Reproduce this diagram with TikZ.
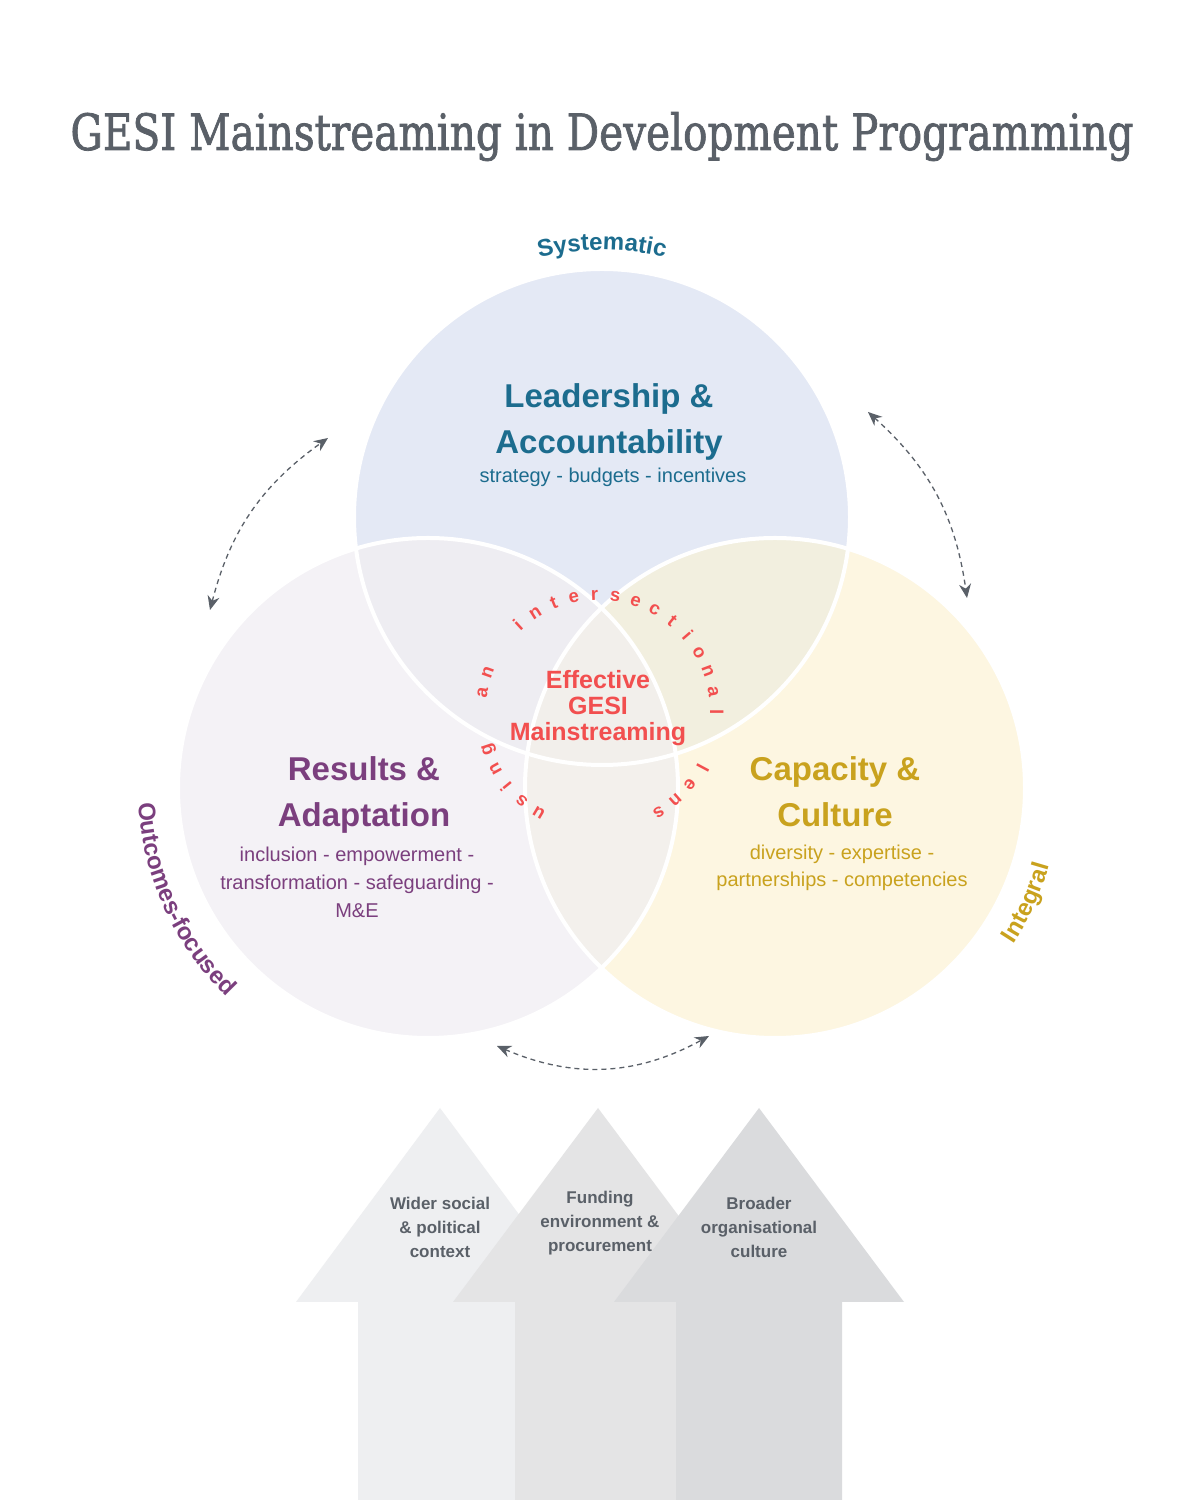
\documentclass[tikz,border=0pt]{standalone}
\usepackage{fontspec}
\usepackage{graphicx}
\setmainfont{Liberation Sans}
\newfontfamily\titlefont[FakeBold=1.6]{DejaVu Serif}
\usetikzlibrary{arrows.meta,decorations.text}
\definecolor{titlegray}{HTML}{5A6068}
\definecolor{sysblue}{HTML}{1C6C8E}
\definecolor{respurple}{HTML}{7B3F7E}
\definecolor{capgold}{HTML}{C9A21E}
\definecolor{effred}{HTML}{F24F4F}
\definecolor{topfill}{HTML}{E4E9F5}
\definecolor{leftfill}{HTML}{F4F2F6}
\definecolor{rightfill}{HTML}{FDF6E1}
\definecolor{tlfill}{HTML}{EEEDF2}
\definecolor{trfill}{HTML}{F2EFDF}
\definecolor{lrfill}{HTML}{F3F0EC}
\definecolor{cfill}{HTML}{F2EFEB}
\definecolor{arrowA}{HTML}{EEEFF1}
\definecolor{arrowB}{HTML}{E4E4E5}
\definecolor{arrowC}{HTML}{DADBDD}
\tikzset{
  headA/.style={font=\bfseries\fontsize{33}{33}\selectfont, anchor=base, inner sep=0pt},
  subA/.style={font=\fontsize{20}{20}\selectfont, anchor=base, inner sep=0pt},
  efftext/.style={font=\bfseries\fontsize{25}{25}\selectfont, text=effred, anchor=base, inner sep=0pt},
  curvch/.style={font=\bfseries\fontsize{18.5}{18.5}\selectfont, text=effred, anchor=base, inner sep=0pt},
  arrtext/.style={font=\bfseries\fontsize{17}{17}\selectfont, text=titlegray, anchor=base, inner sep=0pt},
  dasharrow/.style={draw=titlegray, line width=1.3pt, dash pattern=on 5pt off 4pt,
     {Stealth[length=14pt,width=12pt]}-{Stealth[length=14pt,width=12pt]}},
  vennline/.style={draw=white, line width=4pt}
}
\begin{document}
\begin{tikzpicture}[x=1pt,y=1pt]
\useasboundingbox (0,0) rectangle (1200,1500);
\fill[white] (0,0) rectangle (1200,1500);

% title
\node[font=\titlefont\fontsize{50}{50}\selectfont, text=titlegray, anchor=base, inner sep=0pt] (title) at (602,1350)
  {\resizebox{1063pt}{\height}{GESI Mainstreaming in Development Programming}};

% venn centres
\coordinate (T) at (602,983);
\coordinate (L) at (428,712);
\coordinate (R) at (775,712);
\coordinate (V) at (598,788);

\fill[topfill] (T) circle (248);
\fill[leftfill] (L) circle (250);
\fill[rightfill] (R) circle (250);
\begin{scope}\clip (T) circle (248); \fill[tlfill] (L) circle (250);\end{scope}
\begin{scope}\clip (T) circle (248); \fill[trfill] (R) circle (250);\end{scope}
\begin{scope}\clip (L) circle (250); \fill[lrfill] (R) circle (250);\end{scope}
\begin{scope}\clip (T) circle (248); \clip (L) circle (250); \fill[cfill] (R) circle (250);\end{scope}
\draw[vennline] (T) circle (248);
\draw[vennline] (L) circle (250);
\draw[vennline] (R) circle (250);

% curved outer labels
\path[decorate, decoration={text along path, text align=center, text color=sysblue,
   text={|\bfseries\fontsize{24}{24}\selectfont|Systematic}}]
   ([shift={(112:267)}]T) arc[start angle=112, end angle=68, radius=267];
\path[decorate, decoration={text along path, text align=center, text color=respurple,
   text={|\bfseries\fontsize{24}{24}\selectfont|Outcomes-focused}}]
   ([shift={(172:290)}]L) arc[start angle=172, end angle=237, radius=290];
\path[decorate, decoration={text along path, text align=center, text color=capgold,
   text={|\bfseries\fontsize{24}{24}\selectfont|Integral}}]
   ([shift={(-44.5:285)}]R) arc[start angle=-44.5, end angle=-4.5, radius=285];

% circle texts
\node[headA, text=sysblue] (lead1) at (609,1092) {Leadership \&};
\node[headA, text=sysblue] (lead2) at (609,1046) {Accountability};
\node[subA, text=sysblue] (lead3) at (613,1017) {strategy - budgets - incentives};

\node[headA, text=respurple] (res1) at (364,719) {Results \&};
\node[headA, text=respurple] (res2) at (364,673) {Adaptation};
\node[subA, text=respurple] (res3) at (357,638) {inclusion - empowerment -};
\node[subA, text=respurple] (res4) at (357,610) {transformation - safeguarding -};
\node[subA, text=respurple] (res5) at (357,582) {M\&E};

\node[headA, text=capgold] (cap1) at (835,719) {Capacity \&};
\node[headA, text=capgold] (cap2) at (835,673) {Culture};
\node[subA, text=capgold] (cap3) at (842,640) {diversity - expertise -};
\node[subA, text=capgold] (cap4) at (842,613) {partnerships - competencies};

\node[efftext] (eff1) at (598,811) {Effective};
\node[efftext] (eff2) at (598,785) {GESI};
\node[efftext] (eff3) at (598,759) {Mainstreaming};

% curved centre text
\foreach \c/\a [count=\i] in {u/239.5, s/229.3, i/219.1, n/208.9, g/198.7,
   a/170.7, n/160.5,
   i/132.5, n/122.3, t/112.1, e/101.9, r/91.7, s/81.5, e/71.3, c/61.1, t/50.9, i/40.7, o/30.5, n/20.3, a/10.1, l/-0.1,
   l/-28.1, e/-38.3, n/-48.5, s/-58.7}
  \node[curvch, rotate=\a-90] (ch\i) at ([shift={(\a:112)}]V) {\c};

% dashed double arrows
\coordinate (a1s) at (210,890);
\coordinate (a1e) at (328,1062);
\coordinate (a2s) at (868,1088);
\coordinate (a2e) at (967,902);
\coordinate (a3s) at (497,454);
\coordinate (a3e) at (709,464);
\draw[dasharrow] (a1s) to[bend left=20] (a1e);
\draw[dasharrow] (a2s) to[bend left=20] (a2e);
\draw[dasharrow] (a3s) to[bend right=26] (a3e);

% block arrows
\fill[arrowA] (358,0) -- (358,198) -- (296,198) -- (440,392) -- (584,198) -- (522,198) -- (522,0) -- cycle;
\fill[arrowB] (515,0) -- (515,198) -- (453,198) -- (598,392) -- (743,198) -- (681,198) -- (681,0) -- cycle;
\fill[arrowC] (676,0) -- (676,198) -- (614,198) -- (759,392) -- (904,198) -- (842,198) -- (842,0) -- cycle;

\node[arrtext] (w1) at (440,290) {Wider social};
\node[arrtext] (w2) at (440,266) {\& political};
\node[arrtext] (w3) at (440,242) {context};
\node[arrtext] (f1) at (600,296) {Funding};
\node[arrtext] (f2) at (600,272) {environment \&};
\node[arrtext] (f3) at (600,248) {procurement};
\node[arrtext] (b1) at (759,290) {Broader};
\node[arrtext] (b2) at (759,266) {organisational};
\node[arrtext] (b3) at (759,242) {culture};
\end{tikzpicture}
\end{document}
